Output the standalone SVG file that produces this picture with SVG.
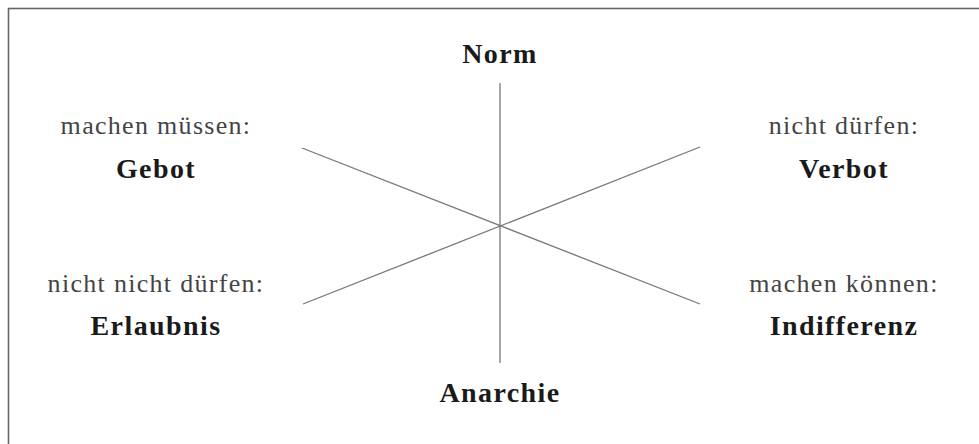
<svg xmlns="http://www.w3.org/2000/svg" width="979" height="444" viewBox="0 0 979 444">
<style>
.bg{fill:#fff}
.frame{fill:none;stroke:#666;stroke-width:1.6}
.ln{stroke:#777;stroke-width:1.3;fill:none}
text{font-family:"Liberation Serif","DejaVu Serif",serif;text-anchor:middle}
.t{font-size:26px;fill:#444;letter-spacing:1.3px}
.b{font-size:28px;font-weight:bold;fill:#1a1a1a;letter-spacing:1.4px}
</style>
<rect class="bg" x="0" y="0" width="979" height="444"/>
<rect class="frame" x="8.5" y="8.5" width="990" height="460"/>
<g id="connectors">
<line class="ln" x1="500" y1="83" x2="500" y2="363"/>
<line class="ln" x1="302" y1="148" x2="700" y2="304"/>
<line class="ln" x1="303" y1="304" x2="700" y2="147"/>
</g>
<g id="norm"><text class="b" x="500" y="63">Norm</text></g>
<g id="anarchie"><text class="b" x="500" y="402">Anarchie</text></g>
<g id="gebot"><text class="t" x="156" y="134">machen müssen:</text><text class="b" x="156" y="178">Gebot</text></g>
<g id="verbot"><text class="t" x="844" y="134">nicht dürfen:</text><text class="b" x="844" y="178">Verbot</text></g>
<g id="erlaubnis"><text class="t" x="156" y="292">nicht nicht dürfen:</text><text class="b" x="156" y="335">Erlaubnis</text></g>
<g id="indifferenz"><text class="t" x="844" y="292">machen können:</text><text class="b" x="844" y="335">Indifferenz</text></g>
</svg>
